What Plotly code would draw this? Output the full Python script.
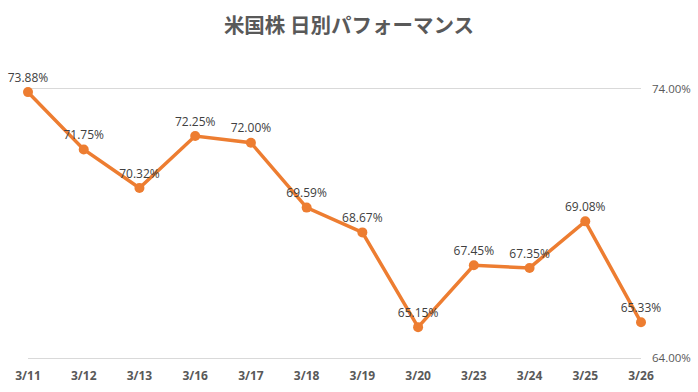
import plotly.graph_objects as go

dates = ["3/11", "3/12", "3/13", "3/16", "3/17", "3/18", "3/19", "3/20", "3/23", "3/24", "3/25", "3/26"]
values = [73.88, 71.75, 70.32, 72.25, 72.00, 69.59, 68.67, 65.15, 67.45, 67.35, 69.08, 65.33]
labels = [f"{v:.2f}%" for v in values]
y_ticks = [64, 74]
y_tick_labels = ["64.00%", "74.00%"]

fig = go.Figure(go.Scatter(
    x=dates, y=values, mode="lines+markers+text",
    text=labels, textposition="top center",
    textfont=dict(family="Open Sans, sans-serif", size=12, color="#404040"),
    line=dict(color="#ED7D31", width=3.5),
    marker=dict(color="#ED7D31", size=10),
    cliponaxis=False,
))

fig.update_layout(
    width=698, height=392,
    margin=dict(l=28, r=57, t=87, b=32),
    paper_bgcolor="white", plot_bgcolor="white",
    showlegend=False,
    title=dict(text="<b>米国株 日別パフォーマンス</b>", x=0.5, xanchor="center",
               y=1 - 26 / 392, yanchor="middle",
               font=dict(family="Noto Sans CJK JP", size=20.5, color="#595959")),
    xaxis=dict(type="category", range=[0, 11], showgrid=False, showline=False,
               ticks="", ticklabelstandoff=7, automargin=False,
               tickfont=dict(family="Open Sans, sans-serif", size=12, color="#595959", weight="bold")),
    yaxis=dict(side="right", range=[63.93, 74.07], tickvals=y_ticks, ticktext=y_tick_labels,
               showgrid=True, gridcolor="#D9D9D9", gridwidth=1, zeroline=False,
               ticks="", ticklabelstandoff=10, automargin=False,
               tickfont=dict(family="Open Sans, sans-serif", size=11.5, color="#595959")),
)

fig.write_html("out.html")
